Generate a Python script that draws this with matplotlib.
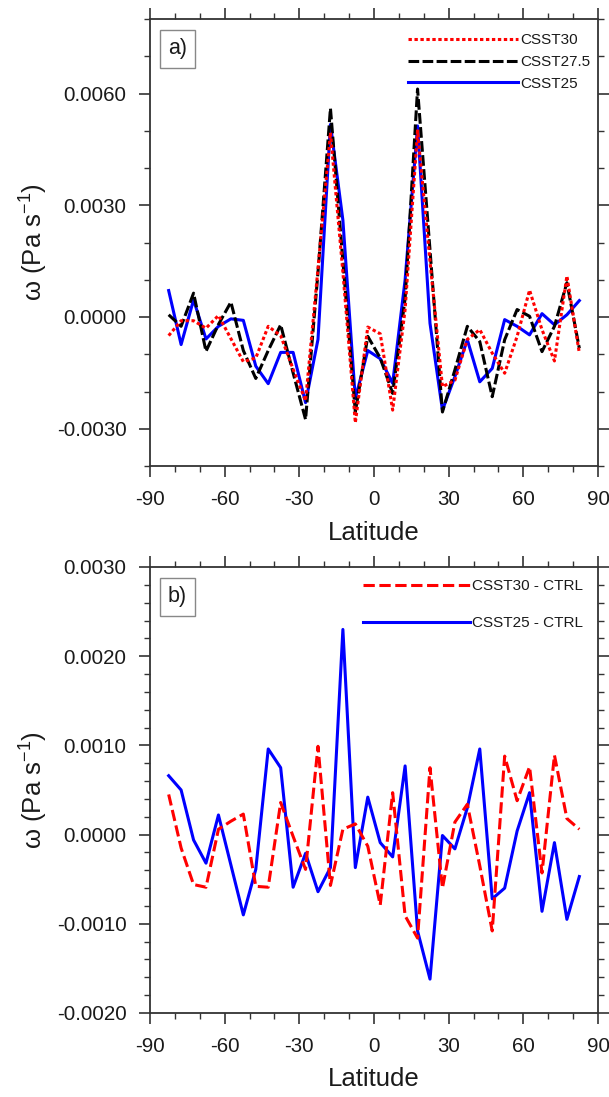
import matplotlib
matplotlib.use("Agg")
import matplotlib.pyplot as plt
from matplotlib.ticker import MultipleLocator, FuncFormatter, FixedLocator

plt.rcParams['font.family'] = ['Liberation Sans', 'DejaVu Sans']
plt.rcParams['mathtext.fontset'] = 'custom'
plt.rcParams['mathtext.rm'] = 'Liberation Sans'
plt.rcParams['axes.unicode_minus'] = False

# ---------------- data ----------------
lat = [-82.5, -77.5, -72.5, -67.5, -62.5, -57.5, -52.5, -47.5, -42.5, -37.5,
       -32.5, -27.5, -22.5, -17.5, -12.5, -7.5, -2.5, 2.5, 7.5, 12.5,
       17.5, 22.5, 27.5, 32.5, 37.5, 42.5, 47.5, 52.5, 57.5, 62.5,
       67.5, 72.5, 77.5, 82.5]

# panel a (Pa s-1)
csst30 = [-0.00050, -0.00010, -0.00010, -0.00030, 0.00004, -0.00058, -0.00120, -0.00110, -0.00025, -0.00050,
          -0.00140, -0.00225, 0.00130, 0.00495, 0.00120, -0.00284, -0.00027, -0.00045, -0.00250, 0.00020,
          0.00500, 0.00150, -0.00187, -0.00170, -0.00060, -0.00034, -0.00097, -0.00151, -0.00052, 0.00072,
          -0.00034, -0.00118, 0.00110, -0.00097]
csst275 = [0.00006, -0.00025, 0.00064, -0.00092, -0.00020, 0.00040, -0.00090, -0.00165, -0.00090, -0.00021,
           -0.00150, -0.00275, 0.00120, 0.00560, 0.00150, -0.00255, -0.00052, -0.00110, -0.00205, 0.00050,
           0.00612, 0.00180, -0.00255, -0.00142, -0.00025, -0.00066, -0.00214, -0.00061, 0.00020, 0.00002,
           -0.00093, -0.00025, 0.00092, -0.00084]
csst25 = [0.00071, -0.00074, 0.00046, -0.00059, -0.00025, -0.00005, -0.00009, -0.00132, -0.00179, -0.00095,
          -0.00095, -0.00230, -0.00060, 0.00517, 0.00260, -0.00219, -0.00090, -0.00112, -0.00178, 0.00100,
          0.00513, -0.00017, -0.00250, -0.00160, -0.00061, -0.00174, -0.00138, -0.00007, -0.00025, -0.00048,
          0.00009, -0.00021, 0.00006, 0.00044]

# panel b (Pa s-1)
d30 = [0.00045, -0.00015, -0.00056, -0.00059, 0.00006, 0.00015, 0.00023, -0.00058, -0.00059, 0.00036,
       -0.00002, -0.00039, 0.00099, -0.00057, 0.00006, 0.00012, -0.00013, -0.00079, 0.00047, -0.00091,
       -0.00116, 0.00075, -0.00060, 0.00014, 0.00034, -0.00035, -0.00108, 0.00088, 0.00038, 0.00076,
       -0.00043, 0.00089, 0.00018, 0.00006]
d25 = [0.00066, 0.00050, -0.00006, -0.00032, 0.00022, -0.00034, -0.00090, -0.00039, 0.00096, 0.00075,
       -0.00059, -0.00021, -0.00064, -0.00037, 0.00230, -0.00037, 0.00042, -0.00009, -0.00025, 0.00077,
       -0.00108, -0.00162, -0.00001, -0.00016, 0.00030, 0.00096, -0.00072, -0.00060, 0.00004, 0.00047,
       -0.00086, -0.00009, -0.00095, -0.00047]

xticks = [-90, -60, -30, 0, 30, 60, 90]
yticks_a = [-0.003, 0.0, 0.003, 0.006]
yticks_b = [-0.002, -0.001, 0.0, 0.001, 0.002, 0.003]

# ---------------- figure ----------------
W, H = 609, 1097
fig = plt.figure(figsize=(W / 100, H / 100), dpi=100)

def frac(l, t, r, b):
    return [l / W, 1 - b / H, (r - l) / W, (b - t) / H]

ax_a = fig.add_axes(frac(150, 19, 598, 466))
ax_b = fig.add_axes(frac(150, 567, 598, 1013))

fmt = FuncFormatter(lambda v, p: "0.0000" if abs(v) < 1e-12 else f"{v:.4f}")
spine_col = '#333333'

def style(ax, ylim, yticks, yminor):
    ax.set_xlim(-90, 90)
    ax.set_ylim(*ylim)
    ax.xaxis.set_major_locator(FixedLocator(xticks))
    ax.xaxis.set_minor_locator(MultipleLocator(10))
    ax.yaxis.set_major_locator(FixedLocator(yticks))
    ax.yaxis.set_minor_locator(MultipleLocator(yminor))
    ax.yaxis.set_major_formatter(fmt)
    ax.tick_params(which='both', direction='out', top=True, right=True,
                   colors=spine_col, labelcolor='#1a1a1a')
    ax.tick_params(which='major', length=8, width=1.2, pad=9, labelsize=14.8)
    ax.tick_params(which='minor', length=4.2, width=1.0)
    for s in ax.spines.values():
        s.set_color(spine_col)
        s.set_linewidth(1.3)
    ax.set_xlabel('Latitude', fontsize=18.5, color='#1a1a1a')
    ax.xaxis.set_label_coords(0.5, -0.122)
    ax.set_ylabel(r'ω (Pa s$^{\mathregular{-1}}$)', fontsize=18.5, color='#1a1a1a')
    ax.yaxis.set_label_coords(-0.225, 0.5)

style(ax_a, (-0.004, 0.008), yticks_a, 0.001)
style(ax_b, (-0.002, 0.003), yticks_b, 0.0002)

# panel a lines
ax_a.plot(lat, csst30, color='red', lw=2.2, linestyle=(0, (1.1, 0.85)), label='CSST30', zorder=4)
ax_a.plot(lat, csst275, color='black', lw=2.2, linestyle=(0, (3.5, 1.1)), label='CSST27.5', zorder=3)
ax_a.plot(lat, csst25, color='blue', lw=2.2, linestyle='-', label='CSST25', zorder=2)

# panel b lines
ax_b.plot(lat, d30, color='red', lw=2.2, linestyle=(0, (3.7, 1.5)), label='CSST30 - CTRL', zorder=3)
ax_b.plot(lat, d25, color='blue', lw=2.2, linestyle='-', label='CSST25 - CTRL', zorder=2)

leg_a = ax_a.legend(loc='upper right', bbox_to_anchor=(0.982, 0.968), frameon=False,
                    fontsize=11, handlelength=7.2, handletextpad=0.1, labelspacing=0.5,
                    borderpad=0, borderaxespad=0)
leg_b = ax_b.legend(loc='upper right', bbox_to_anchor=(0.9665, 0.972), frameon=False,
                    fontsize=11, handlelength=7.0, handletextpad=0.15, labelspacing=1.5,
                    borderpad=0, borderaxespad=0)
for leg in (leg_a, leg_b):
    for t in leg.get_texts():
        t.set_color('#1a1a1a')

box = dict(boxstyle='square,pad=0.38', fc='white', ec='#888888', lw=1.0)
ax_a.text(0.0614, 0.933, 'a)', transform=ax_a.transAxes, fontsize=15.5,
          ha='center', va='center', bbox=box, color='#1a1a1a', zorder=6)
ax_b.text(0.0614, 0.933, 'b)', transform=ax_b.transAxes, fontsize=15.5,
          ha='center', va='center', bbox=box, color='#1a1a1a', zorder=6)

fig.savefig('out.png', dpi=100)
